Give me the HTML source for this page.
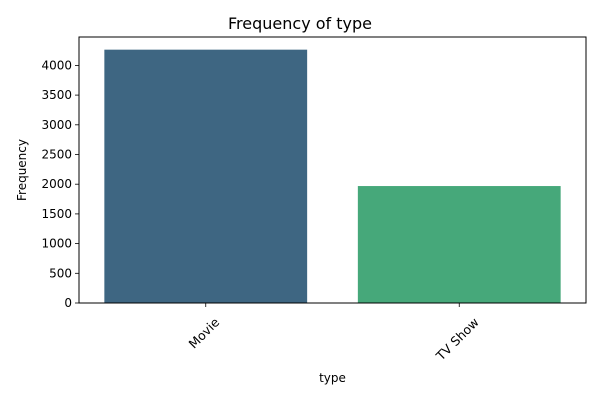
<!DOCTYPE html>
<html><head><meta charset="utf-8"><style>
body{margin:0;background:#fff;font-family:"Liberation Sans","DejaVu Sans",sans-serif}
svg text{font-family:"DejaVu Sans","Liberation Sans",sans-serif;fill:#000}
</style></head><body>
<svg id="c" width="600" height="400"></svg>
<script>
const categories=["Movie","TV Show"];
const counts=[4265,1969];
const colors=["#3e6682","#46a87a"];
const yTicks=[0,500,1000,1500,2000,2500,3000,3500,4000];
const L=79,R=586,T=37,B=303;
const ymax=Math.max(...counts)*1.05;
const ys=v=>B-(v/ymax)*(B-T);
const band=(R-L)/categories.length;
const xs=i=>L+band*(i+0.5);
const svg=document.getElementById('c');
const NS="http://www.w3.org/2000/svg";
function mk(t,a,p){const e=document.createElementNS(NS,t);for(const k in a)e.setAttribute(k,a[k]);(p||svg).appendChild(e);return e;}
let t=mk('text',{x:300,y:29,'text-anchor':'middle','font-size':16});t.textContent="Frequency of type";


categories.forEach((c,i)=>{
 const w=band*0.8;
 const r=mk('rect',{x:xs(i)-w/2,y:ys(counts[i]),width:w,height:B-ys(counts[i]),fill:colors[i]});
 
 
 const tk=mk('line',{x1:xs(i),x2:xs(i),y1:B,y2:B+4,stroke:'#000','stroke-width':0.8});
 
 
 const lb=mk('text',{x:0,y:4,'text-anchor':'middle','font-size':12.5});
 lb.textContent=c;
 
 
 const tw=lb.getComputedTextLength();
 const cy=B+13+(tw+12)*0.7071/2;
 lb.setAttribute('transform',`translate(${xs(i)-1.5},${cy}) rotate(-45)`);
});
yTicks.forEach(v=>{
 const tk=mk('line',{x1:L-4,x2:L,y1:ys(v),y2:ys(v),stroke:'#000','stroke-width':0.8});
 
 
 const lb=mk('text',{x:L-7,y:ys(v)+4,'text-anchor':'end','font-size':12});
 lb.textContent=v;
 
 
});
const fr=mk('rect',{x:L,y:T,width:R-L,height:B-T,fill:'none',stroke:'#000','stroke-width':1});


const xt=mk('text',{x:(L+R)/2,y:382,'text-anchor':'middle','font-size':12});xt.textContent="type";


const yt=mk('text',{x:0,y:0,'text-anchor':'middle','font-size':12,transform:`translate(26,${(T+B)/2}) rotate(-90)`});yt.textContent="Frequency";


</script>
</body></html>
